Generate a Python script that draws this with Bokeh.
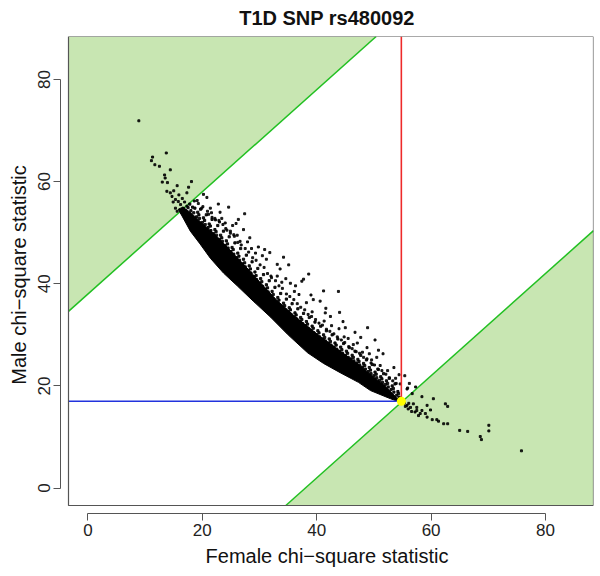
import math
from bokeh.plotting import figure
from bokeh.models import Range1d, FixedTicker
from bokeh.embed import file_html
from bokeh.resources import INLINE

# ---------------- data ----------------
TITLE = "T1D SNP rs480092"
X_LABEL = "Female chi\u2212square statistic"
Y_LABEL = "Male chi\u2212square statistic"
TICKS = [0, 20, 40, 60, 80]
XLIM = [0, 85]
YLIM = [0, 85]
BAND_OFFSET = 38.0          # green regions: |male - female| > offset
SNP_FEMALE = 54.8
SNP_MALE = 17.0

# dense core of the permutation cloud (lower edge, then upper edge)
CORE_LOWER_X = [15.8, 17.9, 19.6, 21.4, 23.7, 26.1, 28.9, 31.9, 35.0, 38.4, 41.2, 44.1, 47.3, 49.4, 52.9, 54.6]
CORE_LOWER_Y = [54.6, 50.3, 47.8, 45.0, 42.1, 39.6, 36.6, 33.5, 30.0, 26.5, 24.4, 22.6, 20.7, 19.1, 17.5, 16.8]
CORE_UPPER_X = [16.6, 18.0, 20.0, 22.6, 25.0, 27.8, 30.0, 32.9, 36.0, 40.6, 44.0, 47.3, 50.0, 51.7, 54.0]
CORE_UPPER_Y = [55.0, 53.9, 51.8, 49.2, 46.4, 43.1, 40.4, 36.9, 33.8, 29.7, 26.9, 24.2, 21.7, 20.3, 17.7]

# speckled fringe just above the core
FRINGE_X = [17.5, 17.8, 18.0, 18.3, 18.5, 18.7, 19.0, 19.2, 19.5, 19.4, 19.7, 20.0, 20.2, 20.5, 20.4, 20.7,
            21.0, 21.2, 21.5, 21.4, 21.7, 22.0, 22.2, 22.5, 22.4, 22.7, 23.0, 23.2, 23.5, 23.4, 23.7, 24.0,
            24.2, 24.5, 24.4, 24.7, 25.0, 25.2, 25.5, 25.4, 25.7, 26.0, 26.2, 26.5, 26.4, 26.7, 27.0, 27.2,
            27.5, 27.4, 27.7, 28.0, 28.2, 28.5, 28.4, 28.7, 29.0, 29.2, 29.5, 29.4, 29.7, 30.0, 30.2, 30.5,
            30.4, 30.7, 31.0, 31.2, 31.5, 31.4, 31.7, 32.0, 32.2, 32.5, 32.4, 32.7, 33.0, 33.2, 33.5, 33.4,
            33.7, 34.0, 34.2, 34.5, 34.4, 34.7, 35.0, 35.2, 35.5, 35.4, 35.7, 36.0, 36.2, 36.5, 36.4, 36.7,
            37.0, 37.2, 37.5, 37.4, 37.7, 38.0, 38.2, 38.5, 38.4, 38.7, 39.0, 39.2, 39.5, 39.4, 39.7, 40.0,
            40.2, 40.5, 40.4, 40.7, 41.0, 41.2, 41.5, 41.4, 41.7, 42.0, 42.2, 42.5, 42.4, 42.7, 43.0, 43.2,
            43.5, 43.4, 43.7, 44.0, 44.2, 44.5, 44.4, 44.7, 45.0, 45.2, 45.5, 45.4, 45.7, 46.0, 46.2, 46.5,
            46.4, 46.7, 47.0, 47.2, 47.5, 47.4, 47.7, 48.0, 48.2, 48.5, 48.4, 48.7, 49.0, 49.2, 49.5, 49.4,
            49.7, 50.0, 50.2, 50.5, 50.4, 50.7, 51.0, 51.2, 51.5, 51.4, 51.7, 52.0, 52.2, 52.5, 52.4, 52.7,
            53.0, 53.2, 53.5, 53.4, 53.7, 54.0, 54.2, 54.4, 54.3]
FRINGE_Y = [54.9, 55.6, 54.3, 55.0, 53.9, 54.8, 53.1, 54.0, 52.8, 53.5, 54.6, 52.0, 52.9, 51.6, 52.4, 53.5,
            51.0, 51.7, 50.4, 51.3, 52.6, 49.8, 50.6, 49.5, 50.2, 51.4, 48.7, 49.5, 48.3, 49.0, 50.3, 47.5,
            48.4, 47.0, 47.8, 49.2, 46.3, 47.1, 45.8, 46.7, 48.0, 45.1, 46.0, 44.6, 45.4, 46.9, 43.9, 44.8,
            43.3, 44.1, 45.6, 42.6, 43.5, 42.1, 42.9, 44.3, 41.4, 42.3, 40.8, 41.6, 43.0, 40.1, 41.0, 39.5,
            40.4, 41.8, 38.9, 39.8, 38.4, 39.2, 40.6, 37.6, 38.5, 37.0, 37.9, 39.3, 36.4, 37.3, 35.9, 36.8,
            38.1, 35.4, 36.2, 34.9, 35.7, 37.0, 34.5, 35.3, 34.0, 34.9, 36.1, 33.5, 34.3, 33.1, 33.9, 35.1,
            32.6, 33.4, 32.2, 33.0, 34.2, 31.8, 32.6, 31.3, 32.1, 33.4, 30.9, 31.7, 30.4, 31.3, 32.5, 30.0,
            30.8, 29.6, 30.4, 31.7, 29.2, 30.0, 28.8, 29.5, 30.8, 28.4, 29.2, 28.0, 28.7, 30.0, 27.6, 28.4,
            27.2, 28.0, 29.2, 26.8, 27.6, 26.4, 27.1, 28.3, 26.0, 26.8, 25.6, 26.4, 27.5, 25.3, 26.0, 24.9,
            25.6, 26.8, 24.5, 25.2, 24.1, 24.8, 26.0, 23.7, 24.4, 23.3, 24.0, 25.1, 22.8, 23.6, 22.4, 23.1,
            24.2, 22.0, 22.7, 21.6, 22.3, 23.3, 21.1, 21.8, 20.7, 21.4, 22.4, 20.3, 21.0, 19.8, 20.5, 21.5,
            19.3, 20.0, 18.8, 19.5, 20.4, 18.2, 18.9, 17.8, 18.5]

# looser outer fringe
OUTER_X = [18.6, 19.3, 20.1, 20.9, 21.6, 22.2, 23.0, 23.6, 24.3, 24.9, 25.6, 26.2, 26.8, 27.5, 28.1, 28.8,
           29.4, 30.1, 30.8, 31.4, 32.1, 32.8, 33.4, 34.0, 34.7, 35.3, 36.0, 36.6, 37.2, 37.9, 38.5, 39.1,
           39.8, 40.4, 41.0, 41.7, 42.3, 43.0, 43.6, 44.3, 44.9, 45.6, 46.2, 46.9, 47.5, 48.2, 48.8, 49.5,
           50.1, 50.8, 51.4, 52.1, 52.7, 53.3, 53.9,
           22.8, 25.9, 28.3, 30.9, 33.6, 36.3, 39.0, 41.6, 44.6, 47.7, 51.6, 27.4, 35.1, 41.2, 48.9]
OUTER_Y = [56.2, 55.7, 55.1, 54.2, 53.9, 52.8, 52.1, 51.6, 50.5, 49.9, 49.3, 48.1, 47.6, 46.9, 46.2, 45.1,
           44.6, 43.7, 43.2, 42.0, 41.2, 40.6, 39.6, 39.1, 38.0, 37.5, 36.9, 36.1, 35.4, 34.9, 34.0, 33.6,
           33.0, 32.3, 31.9, 31.1, 30.7, 30.2, 29.6, 29.0, 28.5, 27.7, 27.3, 26.7, 26.4, 25.6, 25.3, 24.5,
           24.1, 23.2, 23.0, 22.3, 21.6, 21.0, 20.5,
           55.6, 51.8, 49.0, 46.7, 42.9, 39.6, 37.8, 35.2, 32.6, 29.5, 26.3, 53.7, 43.7, 38.6, 31.4]

# scattered points further from the core
HALO_X = [19.1, 20.8, 19.9, 20.2, 21.1, 21.7, 22.3, 22.9, 21.4, 23.1,
          24.1, 24.6, 24.9, 25.5, 26.3, 23.4, 24.0, 25.3, 26.6, 27.9, 28.6, 27.2, 26.1, 29.3,
          30.5, 31.8, 29.8, 32.0, 31.2, 33.1, 34.2, 33.1, 34.6, 35.4, 33.9,
          36.1, 37.4, 37.7, 38.6, 39.2, 36.9, 38.2, 39.4,
          40.6, 41.3, 42.6, 43.8, 44.0, 41.5, 42.4, 43.9,
          44.8, 45.0, 46.4, 46.7, 48.0, 45.5, 47.1,
          48.8, 49.6, 50.2, 50.8, 51.1, 49.2, 50.5,
          52.4, 53.8, 54.4, 53.5, 54.6,
          55.8, 56.2, 57.3, 55.4]
HALO_Y = [56.3, 56.9, 54.8, 57.5, 53.6, 53.0, 52.5, 52.4, 54.8, 54.0,
          50.8, 55.0, 50.3, 49.6, 52.6, 52.8, 51.9, 51.4, 48.3, 48.2, 46.9, 50.6, 49.5, 46.0,
          45.5, 46.1, 47.2, 41.5, 44.8, 41.5, 45.2, 43.8, 41.0, 40.1, 40.3,
          38.5, 40.5, 40.9, 41.9, 34.5, 37.9, 36.3, 36.9,
          36.6, 32.7, 31.8, 38.5, 34.4, 34.3, 33.6, 31.2,
          29.6, 31.4, 28.1, 30.5, 26.6, 29.3, 28.4,
          27.5, 25.1, 29.0, 27.0, 24.0, 26.3, 25.6,
          23.0, 21.5, 22.2, 23.6, 20.4,
          19.4, 20.5, 19.8, 22.0]

# points in the upper-left (male-only) green region
TOPLEFT_X = [8.9, 13.7, 11.3, 11.1, 11.7, 12.5, 14.4, 13.4, 13.5, 13.0, 13.9, 18.1, 17.6, 15.6, 13.8, 14.4,
             15.0, 14.7, 15.9, 16.5, 15.3, 17.3, 16.2, 15.6, 16.7, 17.3, 15.3, 14.9, 15.8, 16.9, 16.4, 17.0]
TOPLEFT_Y = [71.9, 65.6, 64.8, 64.1, 63.3, 63.0, 62.3, 61.3, 60.7, 59.9, 59.8, 60.0, 58.9, 59.2, 58.1, 57.8,
             58.2, 57.1, 57.4, 56.7, 56.5, 57.8, 55.5, 54.2, 54.8, 55.2, 54.8, 56.0, 56.1, 56.0, 53.9, 54.3]

# points in the lower-right (female-only) green region
BOTRIGHT_X = [55.9, 56.7, 58.4, 60.4, 62.5, 62.9, 59.3, 59.9, 57.5, 58.1, 59.0, 56.4, 56.9, 55.8, 59.3, 60.2,
              61.3, 62.2, 62.9, 65.0, 66.4, 70.1, 70.1, 68.6, 68.8, 75.8, 57.5, 58.4, 61.0, 57.2, 56.1, 55.5,
              56.0, 56.6, 57.8, 55.3]
BOTRIGHT_Y = [19.6, 18.5, 17.9, 17.5, 16.5, 16.0, 16.2, 15.3, 15.2, 14.6, 14.6, 15.8, 16.5, 16.2, 13.9, 13.4,
              13.1, 12.6, 12.6, 11.3, 11.1, 12.3, 11.2, 10.1, 9.5, 7.3, 15.8, 15.2, 13.4, 14.9, 16.6, 16.0,
              15.5, 15.0, 14.2, 16.6]

# ---------------- layout ----------------
W, H = 600, 576
BOX_L, BOX_R, BOX_T, BOX_B = 68, 593, 36, 505   # plot box in page pixels
GAP = 8                                          # axis offset from the box

# R style 4% expansion of the limits
xpad = 0.04 * (XLIM[1] - XLIM[0])
ypad = 0.04 * (YLIM[1] - YLIM[0])
XL, XH = XLIM[0] - xpad, XLIM[1] + xpad
YL, YH = YLIM[0] - ypad, YLIM[1] + ypad
xs = (BOX_R - BOX_L) / (XH - XL)
ys = (BOX_B - BOX_T) / (YH - YL)

p = figure(width=W, height=H,
           x_range=Range1d(XL - GAP / xs, XH),
           y_range=Range1d(YL - GAP / ys, YH),
           output_backend="svg", toolbar_location=None,
           min_border_left=BOX_L - GAP, min_border_right=W - BOX_R,
           min_border_top=BOX_T, min_border_bottom=H - (BOX_B + GAP),
           title=TITLE)
p.outline_line_color = None
p.xgrid.visible = False
p.ygrid.visible = False
p.background_fill_color = "white"
p.border_fill_color = "white"

FONT = "Liberation Sans"
p.title.text_font = FONT
p.title.text_font_size = "20px"
p.title.text_font_style = "bold"
p.title.align = "center"
p.title.text_color = "#111111"
p.title.offset = 4
p.title.standoff = 11
p.title.vertical_align = "top"

for ax in (p.xaxis[0], p.yaxis[0]):
    ax.ticker = FixedTicker(ticks=TICKS)
    ax.bounds = (TICKS[0], TICKS[-1])
    ax.major_tick_out = 7
    ax.major_tick_in = 0
    ax.minor_tick_line_color = None
    ax.axis_line_color = "#555555"
    ax.major_tick_line_color = "#555555"
    ax.major_label_text_font = FONT
    ax.major_label_text_font_size = "17px"
    ax.major_label_text_color = "#222222"
    ax.axis_label_text_font = FONT
    ax.axis_label_text_font_size = "20px"
    ax.axis_label_text_font_style = "normal"
    ax.axis_label_text_color = "#111111"
    ax.major_label_standoff = 3

p.xaxis.axis_label = X_LABEL
p.yaxis.axis_label = Y_LABEL
p.yaxis.major_label_orientation = "parallel"
p.xaxis.axis_label_standoff = 6
p.yaxis.axis_label_standoff = 6

GREEN_FILL = "#C8E6B2"
GREEN_LINE = "#22C022"

# green regions
p.patch([XL, XL, YH - BAND_OFFSET], [XL + BAND_OFFSET, YH, YH],
        fill_color=GREEN_FILL, line_color=None)
p.patch([YL + BAND_OFFSET, XH, XH], [YL, YL, XH - BAND_OFFSET],
        fill_color=GREEN_FILL, line_color=None)
p.line([XL, YH - BAND_OFFSET], [XL + BAND_OFFSET, YH], line_color=GREEN_LINE, line_width=1.5)
p.line([YL + BAND_OFFSET, XH], [YL, XH - BAND_OFFSET], line_color=GREEN_LINE, line_width=1.5)

# cloud
p.patch(CORE_LOWER_X + CORE_UPPER_X[::-1], CORE_LOWER_Y + CORE_UPPER_Y[::-1],
        fill_color="black", line_color="black", line_width=1)
p.scatter(FRINGE_X, FRINGE_Y, marker="square", size=2.2, color="black", alpha=0.9)
for xx, yy in ((OUTER_X, OUTER_Y), (HALO_X, HALO_Y), (TOPLEFT_X, TOPLEFT_Y), (BOTRIGHT_X, BOTRIGHT_Y)):
    p.scatter(xx, yy, marker="square", size=2.0, color="black", alpha=0.85)

# SNP reference lines and point
p.segment(x0=[SNP_FEMALE], y0=[SNP_MALE], x1=[SNP_FEMALE], y1=[YH], line_color="#EE2a2a", line_width=1.6)
p.segment(x0=[XL], y0=[SNP_MALE], x1=[SNP_FEMALE], y1=[SNP_MALE], line_color="#2233DD", line_width=1.6)
p.scatter([SNP_FEMALE], [SNP_MALE], marker="circle", size=9, color="#FFFF00", line_color=None)

# plot box
p.quad(left=[XL], right=[XH], bottom=[YL], top=[YH], fill_color=None,
       line_color="#555555", line_width=1.2)

open("out.html", "w").write(file_html(p, INLINE))
